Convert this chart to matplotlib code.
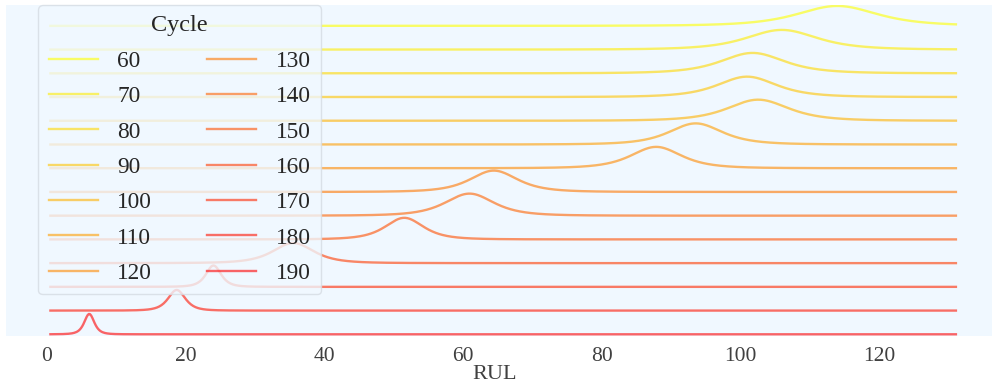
import matplotlib.pyplot as plt
import numpy as np

# predicted RUL distribution for each cycle
cycles = [60, 70, 80, 90, 100, 110, 120, 130, 140, 150, 160, 170, 180, 190]
peak_rul = [113.9, 105.9, 101.7, 100.9, 102.5, 93.5, 87.8, 64.4, 60.9, 51.5, 35.5, 24.0, 18.7, 6.1]
spread = [6.1, 5.4, 4.85, 4.5, 4.65, 4.05, 3.85, 3.6, 3.7, 2.9, 3.1, 1.15, 1.3, 0.76]
peak_height = [0.84, 0.83, 0.86, 0.86, 0.89, 0.89, 0.90, 0.90, 0.93, 0.91, 0.85, 0.90, 0.87, 0.86]
dof = 3

plt.rcParams['font.family'] = ['Liberation Serif', 'DejaVu Serif']

fig = plt.figure(figsize=(9.92, 3.92), dpi=100)
ax = fig.add_axes([6 / 992, 56.3 / 392, 986 / 992, 330.7 / 392])
ax.set_facecolor('aliceblue')
for s in ax.spines.values():
    s.set_visible(False)

rul = np.linspace(0.5, 131, 800)
n = len(cycles)
cmap = plt.cm.autumn
for i, c in enumerate(cycles):
    offset = n - 1 - i
    z = (rul - peak_rul[i]) / spread[i]
    # student-t shaped density, scaled so the peak sits at peak_height
    dens = peak_height[i] * (1 + z ** 2 / dof) ** (-(dof + 1) / 2)
    col = cmap(1 - (c - cycles[0]) / (cycles[-1] - cycles[0]))
    ax.plot(rul, dens + offset, color=col, alpha=0.6, lw=1.7, label=str(c))

ax.set_xlim(-5.9, 136.2)
ax.set_ylim(-0.059, 13.88)
ax.set_yticks([])
ax.set_xticks([0, 20, 40, 60, 80, 100, 120])
ax.tick_params(axis='x', length=0, pad=8, labelsize=15.5, labelcolor='#404040')
ax.set_xlabel('RUL', fontsize=16, color='#404040')
ax.xaxis.set_label_coords(0.496, -0.09)

leg = ax.legend(title='Cycle', ncol=2, loc='upper left',
                bbox_to_anchor=(38 / 992, 1 - 5 / 392), bbox_transform=fig.transFigure,
                borderaxespad=0, fontsize=16.8, title_fontsize=17.5,
                handlelength=2.1, handletextpad=0.85, columnspacing=2.35,
                labelspacing=0.6, borderpad=0.45,
                facecolor='aliceblue', edgecolor='#d5dbe2', framealpha=0.78, fancybox=True)
for t in leg.get_texts():
    t.set_color('#262626')
leg.get_title().set_color('#262626')

fig.savefig('out.png', dpi=100)
